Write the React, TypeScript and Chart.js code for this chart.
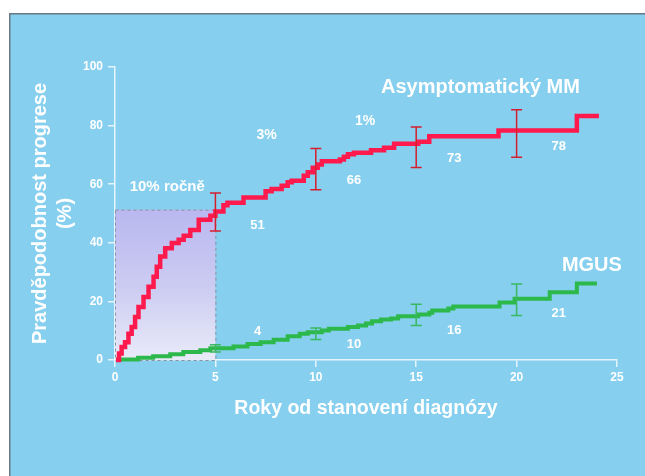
import React, { useEffect, useRef } from "react";
import { Chart, registerables } from "chart.js";

Chart.register(...registerables);

// ---- data ----
const mmYears = [0.05, 0.2, 0.33, 0.5, 0.67, 0.83, 1.0, 1.17, 1.42, 1.67, 1.92, 2.08, 2.25, 2.5, 2.83, 3.17, 3.42, 3.75, 4.17, 4.75, 5.0, 5.4, 5.6, 6.4, 7.5, 7.8, 8.3, 8.6, 8.8, 9.4, 9.6, 9.85, 10.1, 10.3, 11.2, 11.4, 11.6, 11.9, 12.75, 13.4, 13.9, 15.1, 15.65, 19.1, 23.0, 24.1];
const mmValues = [0, 2.2, 4.4, 6.1, 9.0, 11.3, 14.7, 18.1, 21.5, 25.0, 28.4, 31.8, 35.3, 38.1, 39.9, 41.0, 42.4, 44.4, 47.9, 49.2, 50.7, 52.8, 53.7, 55.5, 57.6, 58.4, 59.5, 60.7, 61.2, 62.9, 64.1, 65.6, 66.7, 67.8, 68.4, 69.4, 70.2, 70.7, 71.6, 72.4, 73.8, 74.5, 76.4, 78.3, 83.3, 83.3];

const mgusYears = [0.05, 1.15, 1.9, 2.75, 3.4, 4.25, 4.75, 5.9, 6.6, 7.25, 7.9, 8.6, 9.2, 9.6, 10.3, 10.65, 11.6, 12.1, 12.5, 12.8, 13.25, 13.75, 14.1, 15.1, 15.65, 15.8, 16.6, 16.85, 19.15, 19.9, 21.65, 23.0, 24.0];
const mgusValues = [0.2, 0.75, 1.3, 2.0, 2.7, 3.3, 4.0, 4.6, 5.5, 6.1, 6.9, 8.1, 9.0, 9.5, 10.1, 10.7, 11.3, 11.8, 12.5, 13.2, 13.8, 14.2, 14.9, 15.5, 16.1, 16.9, 17.6, 18.3, 19.6, 20.9, 23.1, 26.1, 26.1];

const ciYears = [5, 10, 15, 20];
const mmLow = [44, 58.1, 65.7, 69.2];
const mmHigh = [57, 72.2, 79.5, 85.4];
const mgusLow = [2.7, 7.0, 11.8, 15.2];
const mgusHigh = [5.2, 10.9, 19.0, 25.9];

const atRiskMM = ["51", "66", "73", "78"];
const atRiskMGUS = ["4", "10", "16", "21"];
const rateLabels = ["10% ročně", "3%", "1%"];
const seriesNames = ["Asymptomatický MM", "MGUS"];

const xTickStep = 5;
const yTickStep = 20;
const xMax = 25;
const yMax = 100;
const firstPeriodEnd = 5;
const firstPeriodLevel = 51.3;

const xTitle = "Roky od stanovení diagnózy";
const yTitle = ["Pravděpodobnost progrese", "(%)"];

// ---- annotation placement (data coordinates) ----
const atRiskMMPos = [[7.1, 45.8], [11.9, 61.2], [16.9, 68.8], [22.1, 72.9]];
const atRiskMGUSPos = [[7.1, 9.8], [11.9, 5.3], [16.9, 10.1], [22.1, 16.0]];
const ratePos = [[2.6, 59.2], [7.55, 76.7], [12.45, 81.5]];
const seriesNamePos = [[18.2, 93.1], [23.75, 32.4]];

const FONT = "'Liberation Sans', Arial, Helvetica, sans-serif";
const BG = "#86cfee";
const AXIS = "rgba(255,255,255,0.78)";
const RED = "#ff1a4d";
const RED_CI = "#d4202e";
const GREEN = "#2db84b";
const GREEN_CI = "#3bb862";

const framePlugin = {
  id: "frame",
  beforeDraw(chart: any) {
    const { ctx, width, height } = chart;
    ctx.save();
    ctx.fillStyle = "#ffffff";
    ctx.fillRect(0, 0, width, height);
    ctx.fillStyle = BG;
    ctx.fillRect(10, 14, width - 10, height - 14);
    ctx.strokeStyle = "#687884";
    ctx.lineWidth = 1.5;
    ctx.beginPath();
    ctx.moveTo(9.75, height);
    ctx.lineTo(9.75, 13.75);
    ctx.lineTo(width, 13.75);
    ctx.stroke();
    ctx.restore();
  },
};

const shadePlugin = {
  id: "shade",
  beforeDatasetsDraw(chart: any) {
    const { ctx } = chart;
    const xs = chart.scales.x;
    const ys = chart.scales.y;
    const x0 = xs.getPixelForValue(0);
    const x1 = xs.getPixelForValue(firstPeriodEnd);
    const y0 = ys.getPixelForValue(0);
    const y1 = ys.getPixelForValue(firstPeriodLevel);
    ctx.save();
    const g = ctx.createLinearGradient(0, y1, 0, y0);
    g.addColorStop(0, "#b9b8f0");
    g.addColorStop(0.5, "#cbcbf2");
    g.addColorStop(1, "#e9eaf8");
    ctx.fillStyle = g;
    ctx.fillRect(x0, y1, x1 - x0, y0 - y1);
    ctx.strokeStyle = "#8c8fa0";
    ctx.lineWidth = 1;
    ctx.setLineDash([3, 3]);
    ctx.strokeRect(x0 + 0.5, y1 + 0.5, x1 - x0, y0 - y1);
    ctx.restore();
  },
};

function drawCI(chart: any, lows: number[], highs: number[], color: string) {
  const { ctx } = chart;
  const xs = chart.scales.x;
  const ys = chart.scales.y;
  ctx.save();
  ctx.strokeStyle = color;
  ctx.lineWidth = 1.5;
  ciYears.forEach((yr, i) => {
    const px = xs.getPixelForValue(yr);
    const pl = ys.getPixelForValue(lows[i]);
    const ph = ys.getPixelForValue(highs[i]);
    ctx.beginPath();
    ctx.moveTo(px, pl);
    ctx.lineTo(px, ph);
    ctx.moveTo(px - 5.5, pl);
    ctx.lineTo(px + 5.5, pl);
    ctx.moveTo(px - 5.5, ph);
    ctx.lineTo(px + 5.5, ph);
    ctx.stroke();
  });
  ctx.restore();
}

const overlayPlugin = {
  id: "overlay",
  afterDatasetsDraw(chart: any) {
    drawCI(chart, mmLow, mmHigh, RED_CI);
    drawCI(chart, mgusLow, mgusHigh, GREEN_CI);
    const { ctx } = chart;
    const xs = chart.scales.x;
    const ys = chart.scales.y;
    const put = (txt: string, p: number[], size: number) => {
      ctx.font = `bold ${size}px ${FONT}`;
      ctx.fillText(txt, xs.getPixelForValue(p[0]), ys.getPixelForValue(p[1]));
    };
    ctx.save();
    ctx.fillStyle = "#ffffff";
    ctx.textAlign = "center";
    ctx.textBaseline = "middle";
    atRiskMM.forEach((t, i) => put(t, atRiskMMPos[i], 13));
    atRiskMGUS.forEach((t, i) => put(t, atRiskMGUSPos[i], 13));
    rateLabels.forEach((t, i) => put(t, ratePos[i], i === 0 ? 15 : 14));
    seriesNames.forEach((t, i) => put(t, seriesNamePos[i], 20));
    ctx.restore();
  },
};

export default function App() {
  const ref = useRef<HTMLCanvasElement | null>(null);
  useEffect(() => {
    if (!ref.current) return;
    const chart = new Chart(ref.current, {
      type: "line",
      data: {
        datasets: [
          {
            label: seriesNames[0],
            data: mmYears.map((x, i) => ({ x, y: mmValues[i] })),
            borderColor: RED,
            borderWidth: 4.5,
            pointRadius: 0,
            stepped: true,
            fill: false,
            clip: false as any,
          },
          {
            label: seriesNames[1],
            data: mgusYears.map((x, i) => ({ x, y: mgusValues[i] })),
            borderColor: GREEN,
            borderWidth: 4,
            pointRadius: 0,
            stepped: true,
            fill: false,
            clip: false as any,
          },
        ],
      },
      options: {
        responsive: false,
        animation: false,
        devicePixelRatio: 1,
        layout: { padding: { left: 10, top: 67, right: 28, bottom: 56 } },
        plugins: { legend: { display: false }, tooltip: { enabled: false } },
        scales: {
          x: {
            type: "linear",
            min: 0,
            max: xMax,
            afterFit(scale: any) {
              scale.height = 60;
            },
            ticks: {
              stepSize: xTickStep,
              color: "#ffffff",
              font: { family: FONT, size: 12, weight: "bold" },
              padding: 3,
              maxRotation: 0,
            },
            grid: { drawOnChartArea: false, drawTicks: true, tickLength: 7, color: AXIS, lineWidth: 1.5 },
            border: { display: true, color: AXIS, width: 1.5 },
            title: {
              display: true,
              text: xTitle,
              color: "#ffffff",
              font: { family: FONT, size: 19.5, weight: "bold" },
              padding: { top: 0, bottom: 0 },
            },
          },
          y: {
            type: "linear",
            min: 0,
            max: yMax,
            afterFit(scale: any) {
              scale.width = 105;
            },
            ticks: {
              stepSize: yTickStep,
              color: "#ffffff",
              font: { family: FONT, size: 12, weight: "bold" },
              padding: 5,
            },
            grid: { drawOnChartArea: false, drawTicks: true, tickLength: 7, color: AXIS, lineWidth: 1.5 },
            border: { display: true, color: AXIS, width: 1.5 },
            title: {
              display: true,
              text: yTitle,
              color: "#ffffff",
              font: { family: FONT, size: 20, weight: "bold", lineHeight: 1.25 },
              padding: { top: 17.5, bottom: 0 },
            },
          },
        },
      },
      plugins: [framePlugin, shadePlugin, overlayPlugin],
    });
    return () => chart.destroy();
  }, []);
  return (
    <div style={{ position: "absolute", left: 0, top: 0, width: 645, height: 476 }}>
      <canvas ref={ref} width={645} height={476} style={{ display: "block", width: 645, height: 476 }} />
    </div>
  );
}
